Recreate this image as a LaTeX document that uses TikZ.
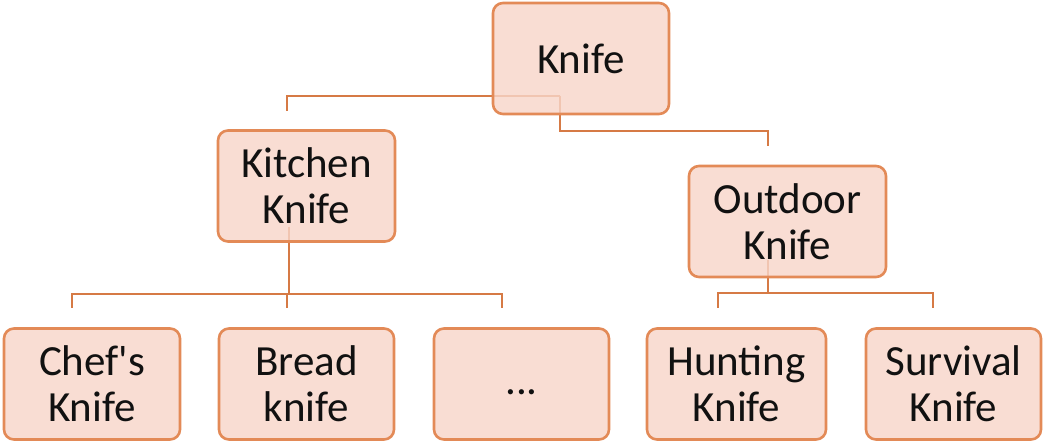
\documentclass[tikz,border=0pt]{standalone}
\usepackage{fontspec}
\setmainfont{Carlito}
\usetikzlibrary{backgrounds}
\definecolor{boxfill}{HTML}{F8D6C9}
\definecolor{boxline}{HTML}{E38A57}
\definecolor{conn}{HTML}{D67A45}
\definecolor{txt}{HTML}{111111}
\begin{document}
\begin{tikzpicture}[x=1pt,y=-1pt,
  kbox/.style={draw=boxline,line width=2.6pt,fill=boxfill,fill opacity=0.82,text opacity=1,
    rounded corners=10pt,align=center,text=txt,inner sep=0pt,
    font=\fontsize{43}{46}\selectfont,minimum height=111pt},
  link/.style={draw=conn,line width=2.8pt}]
\useasboundingbox (0,0) rectangle (1043,443);
% nodes
\node[kbox,minimum width=176pt] (knife) at (581,58.5) {Knife};
\node[kbox,minimum width=177pt] (kitchen) at (306.5,186) {Kitchen\\Knife};
\node[kbox,minimum width=197pt] (outdoor) at (787.5,221.5) {Outdoor\\Knife};
\node[kbox,minimum width=176pt] (chef) at (92,384) {Chef\textquotesingle s\\Knife};
\node[kbox,minimum width=175pt] (bread) at (306.5,384) {Bread\\knife};
\node[kbox,minimum width=175pt] (dots) at (521.5,384) {\smash{\raisebox{-10pt}{...}}};
\node[kbox,minimum width=179pt] (hunting) at (736.5,384) {Hunting\\Knife};
\node[kbox,minimum width=175pt] (survival) at (953.5,384) {Survival\\Knife};
% connector points
\coordinate (kj) at (560,96);
\coordinate (kl) at (287,111);
\coordinate (kr) at (768,146);
\coordinate (ks) at (289,227);
\coordinate (kh) at (289,294);
\coordinate (c1) at (72,308);
\coordinate (c2) at (287,308);
\coordinate (c3) at (502,308);
\coordinate (os) at (768,260);
\coordinate (oh) at (768,293);
\coordinate (h1) at (718,308);
\coordinate (h2) at (933,308);
\begin{scope}[on background layer]
\draw[link] (kl) -- (kl |- kj) -- (kj);
\draw[link] (kj) -- (kj |- 0,131) -- (kr |- 0,131) -- (kr);
\draw[link] (ks) -- (kh);
\draw[link] (c1) -- (c1 |- kh) -- (c3 |- kh) -- (c3);
\draw[link] (c2 |- kh) -- (c2);
\draw[link] (os) -- (oh);
\draw[link] (h1) -- (h1 |- oh) -- (h2 |- oh) -- (h2);
\end{scope}
\end{tikzpicture}
\end{document}
